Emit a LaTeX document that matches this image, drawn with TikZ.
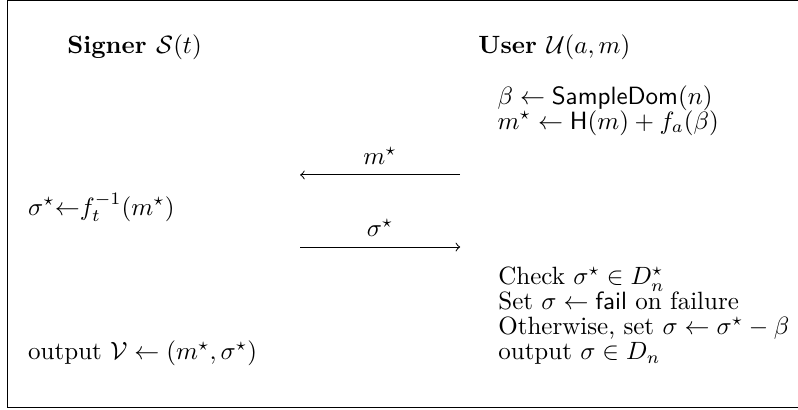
\documentclass[tikz,border=0pt]{standalone}
\usepackage{amsmath,amssymb}

\begin{document}
\begin{tikzpicture}[
  >=to,
  every node/.style={inner sep=0pt},
  party/.style={anchor=base west, font=\bfseries},
  stmt/.style={anchor=base west},
  msg/.style={->},
]
  \useasboundingbox (0,0) rectangle (11.22,5.764);
  % Frame, open on the right
  \draw (11.4,5.75) -- (0.1,5.75) -- (0.1,0.03) -- (11.4,0.03);
  % Parties
  \node[party] (signer) at (0.94,5.005) {Signer $\mathcal{S}(t)$};
  \node[party] (user) at (6.72,5.005) {User $\mathcal{U}(a,m)$};
  % User: blind the message
  \node[stmt] (beta) at (6.99,4.288) {$\beta \leftarrow \mathsf{SampleDom}(n)$};
  \node[stmt] (mstar) at (6.99,3.950) {$m^\star \leftarrow \mathsf{H}(m) + f_a(\beta)$};
  % Message to the signer
  \coordinate (mR) at (6.47,3.304);
  \coordinate (mL) at (4.22,3.304);
  \draw[msg] (mR) -- (mL) node[midway, above=4pt] (mlab) {$m^\star$};
  % Signer: invert
  \node[stmt] (sign) at (0.39,2.741) {$\sigma^\star{\leftarrow}f_t^{-1}(m^\star)$};
  % Signature back to the user
  \coordinate (sL) at (4.22,2.291);
  \coordinate (sR) at (6.47,2.291);
  \draw[msg] (sL) -- (sR) node[midway, above=4pt] (slab) {$\sigma^\star$};
  % User: unblind
  \node[stmt] (check) at (7.0,1.757) {Check $\sigma^\star \in D_n^\star$};
  \node[stmt] (fail) at (7.0,1.406) {Set $\sigma \leftarrow \textsf{fail}$ on failure};
  \node[stmt] (unbl) at (7.0,1.054) {Otherwise, set $\sigma \leftarrow \sigma^\star - \beta$};
  \node[stmt] (outU) at (7.0,0.703) {output $\sigma \in D_n$};
  % Signer output
  \node[stmt] (outS) at (0.39,0.703) {output $\mathcal{V} \leftarrow (m^\star, \sigma^\star)$};
\end{tikzpicture}
\end{document}
